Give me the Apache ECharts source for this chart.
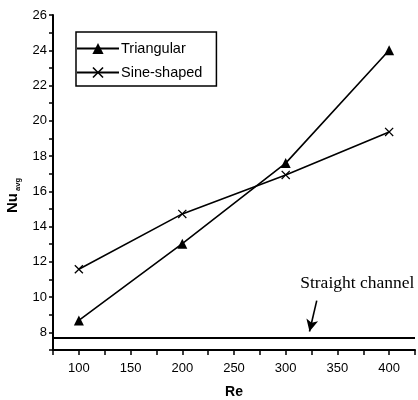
<!DOCTYPE html>
<html>
<head>
<meta charset="utf-8">
<script src="https://cdn.jsdelivr.net/npm/echarts@6/dist/echarts.min.js"></script>
<style>
  html, body { margin: 0; padding: 0; background: #fff; }
  #chart { width: 418px; height: 400px; }
</style>
</head>
<body>
<div id="chart"></div>
<script>
// data
const reValues = [100, 200, 300, 400];
const triangular = [8.68, 13.03, 17.6, 24.0];
const sineShaped = [11.58, 14.72, 16.93, 19.37];
const straightChannel = 7.68;
// annotation: label and arrow (data units)
const noteText = 'Straight channel';
const notePos = [314, 10.77];
const arrowFrom = [330, 9.8];
const arrowTo = [323, 8.05];

const xMark = 'path://M0,1L1,0L5,4L9,0L10,1L6,5L10,9L9,10L5,6L1,10L0,9L4,5Z';
const axisFont = { color: '#000', fontFamily: 'Liberation Sans Narrow, Arial Narrow, Arial', fontSize: 13 };

const chart = echarts.init(document.getElementById('chart'));
chart.setOption({
  animation: false,
  grid: { left: 53, right: 3, top: 15, bottom: 50, outerBoundsMode: 'none' },
  legend: {
    orient: 'vertical',
    left: 76,
    top: 32,
    padding: [9, 14, 6, 0],
    itemWidth: 42,
    itemHeight: 14,
    itemGap: 9,
    borderColor: '#000',
    borderWidth: 1.5,
    textStyle: { color: '#000', fontFamily: 'Arial, Liberation Sans', fontSize: 14.5, padding: [0, 0, 0, -3] },
    data: ['Triangular', 'Sine-shaped']
  },
  xAxis: {
    type: 'value',
    min: 75,
    max: 425,
    interval: 25,
    name: 'Re',
    nameLocation: 'middle',
    nameGap: 35,
    nameTextStyle: { color: '#000', fontFamily: 'Liberation Sans Narrow, Arial Narrow, Arial', fontSize: 14, fontWeight: 'bold' },
    axisLine: { lineStyle: { color: '#000', width: 2 } },
    axisTick: { length: 5, lineStyle: { color: '#000', width: 1.5 } },
    axisLabel: Object.assign({
      margin: 12,
      formatter: v => (v % 50 === 0 && v >= 100 && v <= 400 ? String(v) : '')
    }, axisFont),
    splitLine: { show: false }
  },
  yAxis: {
    type: 'value',
    min: 7,
    max: 26,
    interval: 1,
    name: '{n|Nu}{s|avg}',
    nameLocation: 'middle',
    nameGap: 31,
    nameRotate: 90,
    nameTextStyle: {
      padding: [0, 0, 0, -26],
      rich: {
        n: { color: '#000', fontFamily: 'Arial, Liberation Sans', fontSize: 15, fontWeight: 'bold' },
        s: { color: '#000', fontFamily: 'Arial, Liberation Sans', fontSize: 7.5, fontWeight: 'bold', padding: [9, 0, 0, 2] }
      }
    },
    axisLine: { show: true, lineStyle: { color: '#000', width: 2 } },
    axisTick: { length: 4, lineStyle: { color: '#000', width: 1.5 } },
    axisLabel: Object.assign({
      margin: 6,
      formatter: v => (v % 2 === 0 ? String(v) : '')
    }, axisFont),
    splitLine: { show: false }
  },
  series: [
    {
      name: 'Triangular',
      type: 'line',
      data: reValues.map((x, i) => [x, triangular[i]]),
      symbol: 'triangle',
      symbolSize: 10,
      lineStyle: { color: '#000', width: 1.6 },
      itemStyle: { color: '#000' }
    },
    {
      name: 'Sine-shaped',
      type: 'line',
      data: reValues.map((x, i) => [x, sineShaped[i]]),
      symbol: xMark,
      symbolSize: 9,
      lineStyle: { color: '#000', width: 1.6 },
      itemStyle: { color: '#000' }
    },
    {
      name: 'straight',
      type: 'line',
      data: [],
      silent: true,
      markLine: {
        silent: true,
        symbol: ['none', 'none'],
        label: { show: false },
        lineStyle: { color: '#000', width: 2, type: 'solid' },
        data: [{ yAxis: straightChannel }]
      }
    },
    {
      name: 'note',
      type: 'line',
      data: [],
      silent: true,
      markLine: {
        silent: true,
        symbol: ['none', 'arrow'],
        symbolSize: [9, 12],
        label: { show: false },
        lineStyle: { color: '#000', width: 1.6, type: 'solid' },
        data: [[{ coord: arrowFrom }, { coord: arrowTo }]]
      },
      markPoint: {
        silent: true,
        symbol: 'circle',
        symbolSize: 0,
        label: {
          show: true,
          position: 'right',
          distance: 0,
          formatter: noteText,
          color: '#000',
          fontFamily: 'Times New Roman, Liberation Serif',
          fontSize: 17.5
        },
        data: [{ coord: notePos }]
      }
    }
  ]
});
</script>
</body>
</html>
